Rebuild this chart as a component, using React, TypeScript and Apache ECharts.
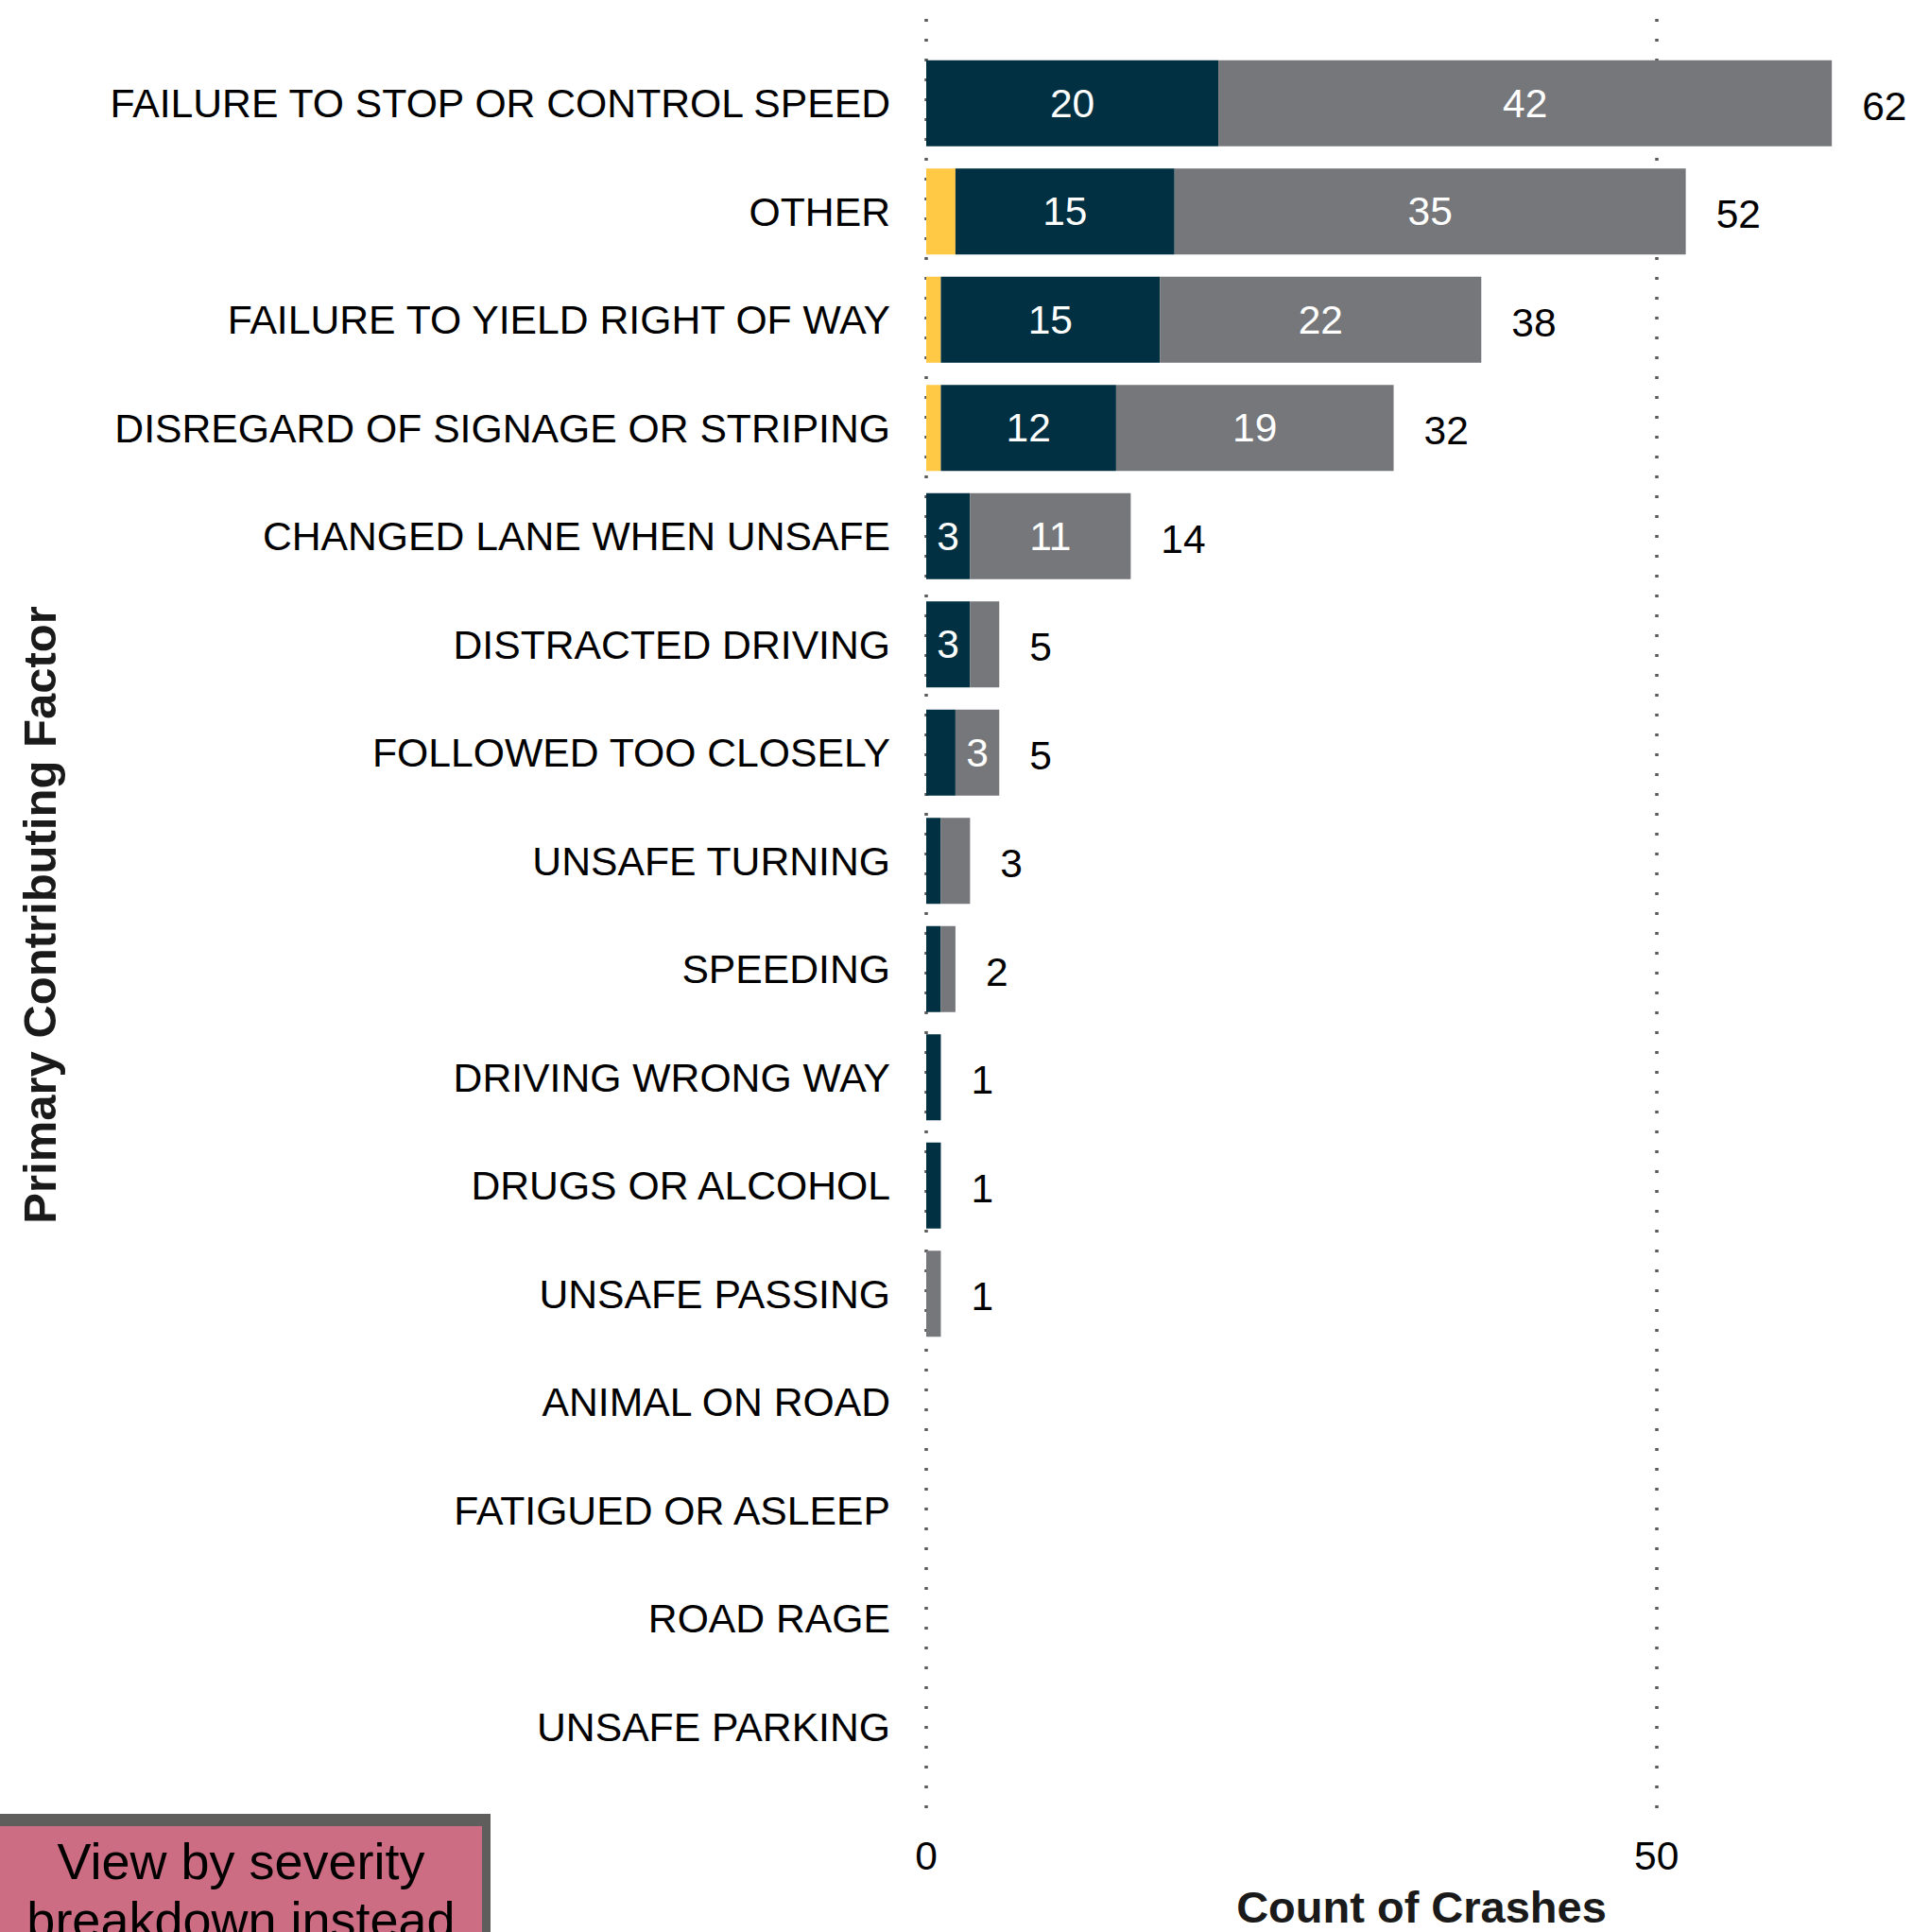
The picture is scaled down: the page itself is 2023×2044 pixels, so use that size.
import React, { useEffect, useRef } from "react";
import * as echarts from "echarts";

const categories = [
  "FAILURE TO STOP OR CONTROL SPEED",
  "OTHER",
  "FAILURE TO YIELD RIGHT OF WAY",
  "DISREGARD OF SIGNAGE OR STRIPING",
  "CHANGED LANE WHEN UNSAFE",
  "DISTRACTED DRIVING",
  "FOLLOWED TOO CLOSELY",
  "UNSAFE TURNING",
  "SPEEDING",
  "DRIVING WRONG WAY",
  "DRUGS OR ALCOHOL",
  "UNSAFE PASSING",
  "ANIMAL ON ROAD",
  "FATIGUED OR ASLEEP",
  "ROAD RAGE",
  "UNSAFE PARKING",
];
const yellowValues = [0, 2, 1, 1, 0, 0, 0, 0, 0, 0, 0, 0, 0, 0, 0, 0];
const navyValues = [20, 15, 15, 12, 3, 3, 2, 1, 1, 1, 1, 0, 0, 0, 0, 0];
const grayValues = [42, 35, 22, 19, 11, 2, 3, 2, 1, 0, 0, 1, 0, 0, 0, 0];
const xTicks = [0, 50];
const axisMax = 66;

const FONT = "'Liberation Sans', Arial, Helvetica, sans-serif";

export default function App() {
  const ref = useRef<HTMLDivElement>(null);
  useEffect(() => {
    if (!ref.current) return;
    const chart = echarts.init(ref.current, undefined, { renderer: "svg" });
    const totals = categories.map((_, i) => yellowValues[i] + navyValues[i] + grayValues[i]);
    const innerLabel = {
      show: true,
      position: "inside" as const,
      color: "#ffffff",
      fontSize: 42.5,
      fontFamily: FONT,
      formatter: (p: any) => (p.value >= 3 ? String(p.value) : ""),
    };
    chart.setOption({
      animation: false,
      backgroundColor: "#ffffff",
      grid: [
        { left: 980, right: 23, top: 52, height: 1832, containLabel: false },
        { left: 980, right: 23, top: 20, height: 1900, containLabel: false },
      ],
      xAxis: [
        { gridIndex: 0, type: "value", min: 0, max: axisMax, interval: xTicks[1] - xTicks[0], show: false },
        {
          gridIndex: 1,
          type: "value",
          min: 0,
          max: axisMax,
          interval: xTicks[1] - xTicks[0],
          axisLine: { show: false },
          axisTick: { show: false },
          axisLabel: {
            show: true,
            margin: 22,
            fontSize: 42.5,
            color: "#000",
            fontFamily: FONT,
            showMaxLabel: false,
          },
          splitLine: {
            show: true,
            showMaxLine: false,
            lineStyle: { color: ["#5a5a5a", "#5a5a5a", "rgba(0,0,0,0)"], width: 3.5, type: [3, 18] },
          },
        },
      ],
      yAxis: [
        {
          gridIndex: 0,
          type: "category",
          data: categories,
          inverse: true,
          axisLine: { show: false },
          axisTick: { show: false },
          splitLine: { show: false },
          axisLabel: { margin: 38, fontSize: 42.7, color: "#000", fontFamily: FONT },
          name: "Primary Contributing Factor",
          nameLocation: "middle",
          nameRotate: 90,
          nameGap: 938,
          nameTextStyle: { fontSize: 49, fontWeight: "bold", color: "#1a1a1a", fontFamily: FONT, verticalAlign: "middle" },
        },
        { gridIndex: 1, type: "value", show: false },
      ],
      series: [
        {
          name: "Yellow",
          type: "bar",
          stack: "s",
          xAxisIndex: 0,
          yAxisIndex: 0,
          barWidth: "79.5%",
          itemStyle: { color: "#FFC845" },
          label: innerLabel,
          data: yellowValues,
          z: 3,
        },
        {
          name: "Navy",
          type: "bar",
          stack: "s",
          xAxisIndex: 0,
          yAxisIndex: 0,
          barWidth: "79.5%",
          itemStyle: { color: "#003041" },
          label: innerLabel,
          data: navyValues,
          z: 3,
        },
        {
          name: "Gray",
          type: "bar",
          stack: "s",
          xAxisIndex: 0,
          yAxisIndex: 0,
          barWidth: "79.5%",
          itemStyle: { color: "#76777B" },
          label: innerLabel,
          data: grayValues,
          z: 3,
        },
        {
          name: "Total",
          type: "bar",
          stack: "s",
          xAxisIndex: 0,
          yAxisIndex: 0,
          barWidth: "79.5%",
          itemStyle: { color: "rgba(0,0,0,0)" },
          label: {
            show: true,
            position: "right",
            distance: 32,
            offset: [0, 3],
            color: "#000",
            fontSize: 42.5,
            fontFamily: FONT,
            formatter: (p: any) => (totals[p.dataIndex] > 0 ? String(totals[p.dataIndex]) : ""),
          },
          data: categories.map(() => 0),
          z: 3,
        },
      ],
      graphic: [
        {
          type: "text",
          x: 1504,
          y: 2017,
          style: {
            text: "Count of Crashes",
            fontSize: 47,
            fontWeight: "bold",
            fontFamily: FONT,
            fill: "#1a1a1a",
            textAlign: "center",
            textVerticalAlign: "middle",
          },
          z: 10,
        },
        {
          type: "rect",
          shape: { x: -20, y: 1919, width: 539, height: 200 },
          style: { fill: "#5F5E5C" },
          z: 20,
        },
        {
          type: "rect",
          shape: { x: -20, y: 1932, width: 530, height: 200 },
          style: { fill: "#CD6D84" },
          z: 21,
        },
        {
          type: "text",
          x: 255,
          y: 2000,
          style: {
            text: "View by severity\nbreakdown instead",
            fontSize: 54,
            lineHeight: 62,
            fontFamily: FONT,
            fill: "#000",
            textAlign: "center",
            textVerticalAlign: "middle",
          },
          z: 22,
        },
      ],
    });
    return () => chart.dispose();
  }, []);
  return (
    <div
      ref={ref}
      style={{ position: "absolute", left: 0, top: 0, width: 2023, height: 2044, background: "#fff" }}
    />
  );
}
